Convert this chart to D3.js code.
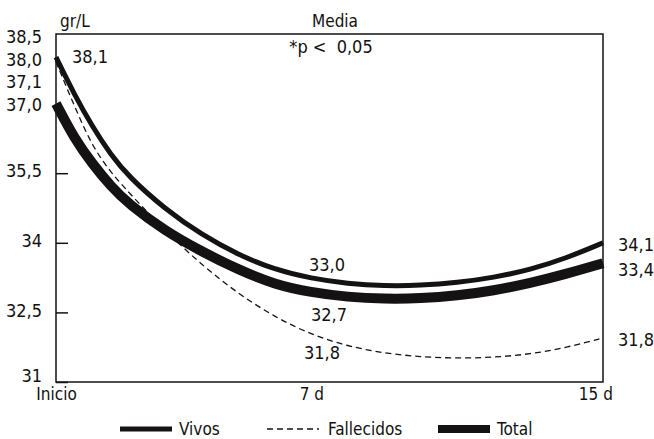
<!DOCTYPE html>
<html>
<head>
<meta charset="utf-8">
<script src="https://cdn.jsdelivr.net/npm/d3@7"></script>
<style>
  body { margin: 0; background: #fff; }
  text { font-family: 'Liberation Sans Narrow', 'DejaVu Sans Condensed', sans-serif; font-size: 18px; fill: #111; }
  .word { font-size: 17px; }
</style>
</head>
<body>
<svg id="chart" width="654" height="439"></svg>
<script>
'use strict';

// days since admission, and mean value (gr/L) for each group
const days = [0, 0.5, 1, 1.5, 2, 3, 4, 5, 6, 7, 8, 9, 10, 11, 12, 13, 14, 15];
const vivos = [38.0, 37.2, 36.5, 35.9, 35.42, 34.72, 34.17, 33.74, 33.42, 33.23, 33.12, 33.07, 33.08, 33.14, 33.25, 33.42, 33.67, 34.0];
const fallecidos = [37.9, 36.95, 36.07, 35.52, 35.08, 34.25, 33.52, 32.9, 32.4, 32.02, 31.77, 31.62, 31.54, 31.51, 31.53, 31.6, 31.74, 31.95];
const total = [37.0, 36.25, 35.7, 35.22, 34.83, 34.25, 33.81, 33.42, 33.1, 32.93, 32.83, 32.79, 32.8, 32.86, 32.97, 33.13, 33.33, 33.56];

const yTicks = [31, 32.5, 34, 35.5];
const xTicks = [0, 7, 15];
const xTickLabels = ['Inicio', '7 d', '15 d'];
const startLabels = ['38,5', '38,0', '37,1', '37,0'];

const series = [
  { name: 'Total', values: total, width: 10, dash: null },
  { name: 'Vivos', values: vivos, width: 5, dash: null },
  { name: 'Fallecidos', values: fallecidos, width: 1.3, dash: '6,4' }
];
const legendOrder = ['Vivos', 'Fallecidos', 'Total'];

const svg = d3.select('#chart');
const frame = { left: 56, right: 603, top: 34, bottom: 382 };
const ink = '#141212';
const comma = v => String(v).replace('.', ',');

const x = d3.scaleLinear().domain([0, 15]).range([frame.left, frame.right]);
const y = d3.scaleLinear().domain([31, 38.5]).range([frame.bottom, frame.top]);

// frame
svg.append('rect')
  .attr('x', frame.left).attr('y', frame.top)
  .attr('width', frame.right - frame.left).attr('height', frame.bottom - frame.top)
  .attr('fill', 'none').attr('stroke', ink).attr('stroke-width', 1.5);

// y axis, ticks pointing inward
const yAxis = svg.append('g')
  .attr('transform', `translate(${frame.left},0)`)
  .call(d3.axisLeft(y).tickValues(yTicks).tickSize(-12).tickPadding(14).tickFormat(comma));
yAxis.select('.domain').remove();
yAxis.selectAll('line').attr('stroke', ink).attr('stroke-width', 1.5);
yAxis.selectAll('text').attr('font-size', null).attr('font-family', null)
  .attr('dy', d => d === 31 ? '-0.05em' : '0.2em');

// x axis labels
const xAxis = svg.append('g')
  .attr('transform', `translate(0,${frame.bottom})`)
  .call(d3.axisBottom(x).tickValues(xTicks).tickSize(0).tickPadding(6)
    .tickFormat((d, i) => xTickLabels[i]));
xAxis.select('.domain').remove();
xAxis.selectAll('text').attr('font-size', null).attr('font-family', null)
  .classed('word', true)
  .attr('dx', d => d === 15 ? '-0.45em' : 0);

// starting values on the left
const startY = [37, 60, 82, 105];
svg.append('g').selectAll('text')
  .data(startLabels)
  .join('text')
  .attr('x', 42).attr('y', (d, i) => startY[i]).attr('dy', '0.36em')
  .attr('text-anchor', 'end')
  .text(d => d);

// curves
const line = d3.line()
  .x((d, i) => x(days[i]))
  .y(d => y(d))
  .curve(d3.curveBasis);

svg.append('g').selectAll('path')
  .data(series)
  .join('path')
  .attr('d', d => line(d.values))
  .attr('fill', 'none')
  .attr('stroke', ink)
  .attr('stroke-width', d => d.width)
  .attr('stroke-dasharray', d => d.dash);

// value annotations
const notes = [
  { t: '38,1', x: 72, y: 57, anchor: 'start' },
  { t: '33,0', x: 327, y: 265, anchor: 'middle' },
  { t: '32,7', x: 329, y: 315, anchor: 'middle' },
  { t: '31,8', x: 322, y: 353, anchor: 'middle' },
  { t: '34,1', x: 618, y: 245, anchor: 'start' },
  { t: '33,4', x: 618, y: 270, anchor: 'start' },
  { t: '31,8', x: 618, y: 340, anchor: 'start' },
  { t: 'gr/L', x: 60, y: 21, anchor: 'start', word: true },
  { t: 'Media', x: 335, y: 21, anchor: 'middle', word: true },
  { t: '*p <  0,05', x: 331, y: 47, anchor: 'middle' }
];
svg.append('g').selectAll('text')
  .data(notes)
  .join('text')
  .classed('word', d => !!d.word)
  .attr('x', d => d.x).attr('y', d => d.y).attr('dy', '0.36em')
  .attr('text-anchor', d => d.anchor)
  .style('white-space', 'pre')
  .text(d => d.t);

// legend
const legendX = [120, 267, 438];
const legend = svg.append('g').attr('transform', 'translate(0,429)')
  .selectAll('g')
  .data(legendOrder.map(n => series.find(s => s.name === n)))
  .join('g')
  .attr('transform', (d, i) => `translate(${legendX[i]},0)`);
legend.append('line')
  .attr('x1', 0).attr('x2', 52)
  .attr('stroke', ink)
  .attr('stroke-width', d => d.width === 10 ? 8 : d.width)
  .attr('stroke-dasharray', d => d.dash);
legend.append('text')
  .attr('class', 'word')
  .attr('x', d => d.dash ? 61 : 59).attr('dy', '0.36em')
  .text(d => d.name);
</script>
</body>
</html>
